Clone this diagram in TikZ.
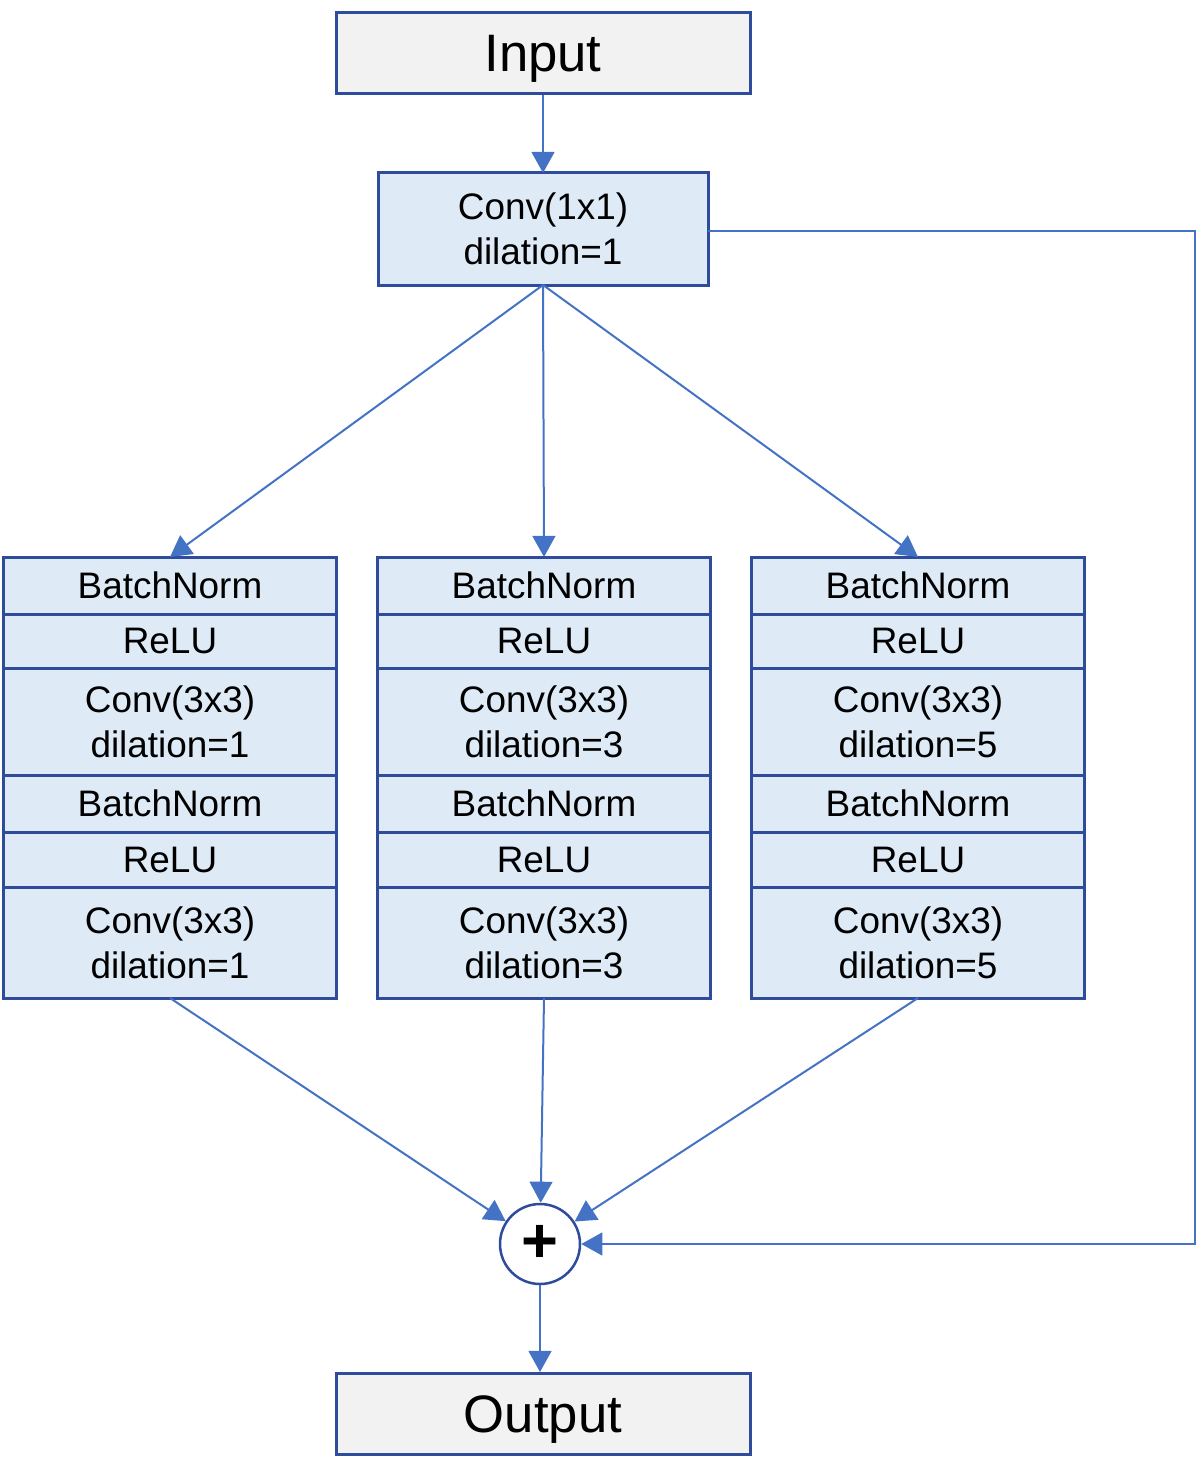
\documentclass[tikz,border=0pt]{standalone}
\usepackage{fontspec}
\setmainfont{Liberation Sans}
\usepackage{tikz}
\usetikzlibrary{arrows.meta,positioning}
\definecolor{ctLine}{HTML}{2F4B9C}
\definecolor{ctArrow}{HTML}{4472C4}
\definecolor{ctBlue}{HTML}{DEEBF7}
\definecolor{ctGray}{HTML}{F2F2F2}
\newdimen\pxu
\pxu=0.02cm

\begin{document}
\begin{tikzpicture}[x=0.02cm, y=-0.02cm,
    every node/.style={font=\fontsize{21}{25.5}\selectfont},
    blk/.style={draw=ctLine, fill=ctBlue, line width=3\pxu, minimum width=333\pxu, outer sep=0pt, align=center},
    io/.style={draw=ctLine, fill=ctGray, line width=3\pxu, minimum width=414\pxu, minimum height=81\pxu, text depth=0pt, font=\fontsize{30}{36}\selectfont},
    arw/.style={draw=ctArrow, line width=2\pxu, -{Triangle[length=12pt,width=13pt]}}]
  \useasboundingbox (0,0) rectangle (1200,1480);
  \node[io] (in) at (543,53) {Input};
  \node[blk, minimum width=330\pxu, minimum height=112\pxu] (conv) at (543,229) {Conv(1x1)\\dilation=1};
  \foreach \x/\d/\n in {170/1/a, 544/3/b, 918/5/c} {
    \node[blk, minimum height=57\pxu, anchor=north] (\n1) at (\x,557) {BatchNorm};
    \node[blk, minimum height=54\pxu, below=0pt of \n1] (\n2) {ReLU};
    \node[blk, minimum height=107\pxu, below=0pt of \n2] (\n3) {Conv(3x3)\\dilation=\d};
    \node[blk, minimum height=57\pxu, below=0pt of \n3] (\n4) {BatchNorm};
    \node[blk, minimum height=55\pxu, below=0pt of \n4] (\n5) {ReLU};
    \node[blk, minimum height=111\pxu, below=0pt of \n5] (\n6) {Conv(3x3)\\dilation=\d};
  }
  \node[circle, draw=ctLine, fill=white, line width=2.5\pxu, minimum size=80\pxu, inner sep=0pt,
        font=\fontsize{36}{36}\bfseries\selectfont] (plus) at (540,1244) {+};
  \node[io] (out) at (543,1414) {Output};
  \coordinate (sk) at (1195,231);
  \draw[arw] (in.south) -- (conv.north);
  \foreach \n in {a,b,c} {
    \draw[arw] (conv.south) -- (\n1.north);
    \draw[arw] (\n6.south) -- (plus);
  }
  \draw[arw] (conv.east |- sk) -- (sk) |- (plus.east);
  \draw[arw] (plus.south) -- (out.north -| plus.south);
\end{tikzpicture}
\end{document}
